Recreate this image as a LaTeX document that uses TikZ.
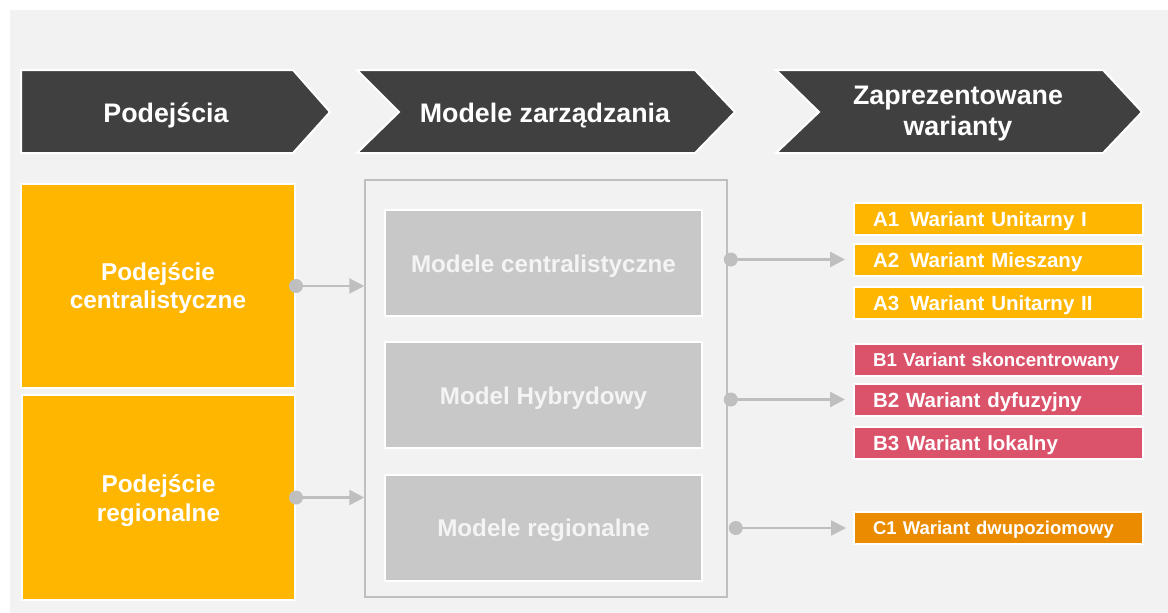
\documentclass[tikz,border=0pt]{standalone}
\usepackage{fontspec}
\setmainfont{Liberation Sans}
\usetikzlibrary{arrows.meta}
\definecolor{bg}{HTML}{F2F2F2}
\definecolor{dark}{HTML}{404040}
\definecolor{myorange}{HTML}{FFB600}
\definecolor{mypink}{HTML}{DB536A}
\definecolor{myamber}{HTML}{EB8C00}
\definecolor{boxgray}{HTML}{C8C8C8}
\definecolor{conngray}{HTML}{BFBFBF}
\definecolor{lighttext}{HTML}{F4F4F4}
\tikzset{
  chev/.style={fill=dark, draw=white, line width=2pt, line join=miter},
  htext/.style={text=white, font=\fontsize{26.8}{31}\selectfont\bfseries, align=center, inner sep=0pt},
  obox/.style={fill=myorange, draw=white, line width=2pt, inner sep=0pt},
  otext/.style={text=white, font=\fontsize{24.4}{28.5}\selectfont\bfseries, align=center, inner sep=0pt},
  gbox/.style={fill=boxgray, draw=white, line width=2pt, text=lighttext, font=\fontsize{24.2}{29}\selectfont\bfseries, inner sep=0pt, minimum width=317pt, minimum height=106pt, text height=18pt, text depth=0pt},
  varbox/.style={draw=white, line width=2pt, text=white, font=\fontsize{20.5}{24}\selectfont\bfseries, minimum width=289pt, text width=251pt, inner xsep=19pt, inner ysep=0pt, align=left, minimum height=32pt, text height=15pt, text depth=0pt},
  conn/.style={draw=conngray, line width=2.5pt, -{Triangle[length=15pt,width=15pt]}},
  dotc/.style={fill=conngray}
}
\begin{document}
\begin{tikzpicture}[x=1pt,y=-1pt]
\useasboundingbox (0,0) rectangle (1168,613);
\fill[white] (0,0) rectangle (1168,613);
\fill[bg] (10,10) rectangle (1168,613);

% header chevrons
\draw[chev] (21,70) -- (293,70) -- (330,112) -- (293,153) -- (21,153) -- cycle;
\draw[chev] (357,70) -- (695,70) -- (735,112) -- (695,153) -- (357,153) -- (399,112) -- cycle;
\draw[chev] (776,70) -- (1103,70) -- (1142,112) -- (1103,153) -- (776,153) -- (819,112) -- cycle;
\node[htext, anchor=base] (h1) at (166,122) {Podejścia};
\node[htext, anchor=base] (h2) at (545,122) {Modele zarządzania};
\node[htext, anchor=base] (h3) at (958,135) {Zaprezentowane\\warianty};

% approaches
\node[obox, minimum width=274pt, minimum height=204pt] (o1) at (158,286) {};
\node[otext, anchor=base] (o1t) at (158,308.5) {Podejście\\centralistyczne};
\node[obox, minimum width=273pt, minimum height=205pt] (o2) at (158.5,497.5) {};
\node[otext, anchor=base] (o2t) at (158.5,521) {Podejście\\regionalne};

% container with models
\node[draw=conngray, fill=bg, line width=1.5pt, minimum width=362pt, minimum height=417pt, inner sep=0pt] (cont) at (546,388.5) {};
\node[gbox] (g1) at (543.5,263) {Modele centralistyczne};
\node[gbox] (g2) at (543.5,395) {Model Hybrydowy};
\node[gbox] (g3) at (543.5,527.5) {Modele regionalne};

% variants
\node[varbox, fill=myorange] (a1) at (998.5,219) {A1\hspace{4pt} Wariant Unitarny I};
\node[varbox, fill=myorange] (a2) at (998.5,259.5) {A2\hspace{4pt} Wariant Mieszany};
\node[varbox, fill=myorange] (a3) at (998.5,302.5) {A3\hspace{4pt} Wariant Unitarny II};
\node[varbox, fill=mypink, font=\fontsize{18.7}{22}\selectfont\bfseries, text height=13.5pt] (b1) at (998.5,359.5) {B1 Variant skoncentrowany};
\node[varbox, fill=mypink] (b2) at (998.5,399.5) {B2 Wariant dyfuzyjny};
\node[varbox, fill=mypink] (b3) at (998.5,443) {B3 Wariant lokalny};
\node[varbox, fill=myamber, font=\fontsize{18.5}{22}\selectfont\bfseries, text height=13.5pt] (c1) at (998.5,528) {C1 Wariant dwupoziomowy};

% connectors left
\coordinate (d1) at (o1.east);
\coordinate (d2) at (o2.east);
\fill[dotc] (d1) circle (7pt);
\fill[dotc] (d2) circle (7pt);
\draw[conn] (d1) -- (d1 -| cont.west);
\draw[conn] (d2) -- (d2 -| cont.west);

% connectors right
\coordinate (ce) at ([xshift=3pt]cont.east);
\coordinate (r1) at (ce |- a2.west);
\coordinate (r2) at (ce |- b2.west);
\coordinate (r3) at ([xshift=5pt]ce |- c1.west);
\fill[dotc] (r1) circle (7pt);
\fill[dotc] (r2) circle (7pt);
\fill[dotc] (r3) circle (7pt);
\draw[conn, shorten >=8pt] (r1) -- (a2.west);
\draw[conn, shorten >=8pt] (r2) -- (b2.west);
\draw[conn, shorten >=7pt] (r3) -- (c1.west);
\end{tikzpicture}
\end{document}
